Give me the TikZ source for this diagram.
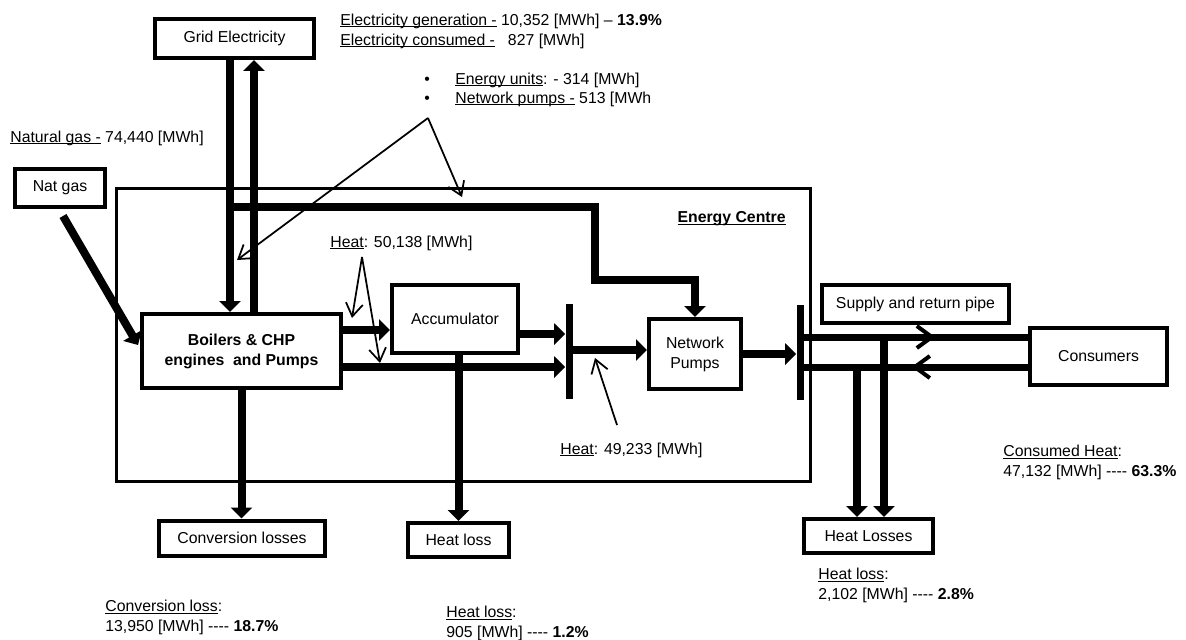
\documentclass[tikz,border=0pt]{standalone}
\usepackage{fontspec}
\setmainfont{Liberation Sans}
\usetikzlibrary{arrows.meta, decorations.markings, calc}

\newcommand{\dashrun}{-\kern0pt-\kern0pt-\kern0pt-}
\newcommand{\ulbox}[1]{\leavevmode\setbox0=\hbox{#1}\rlap{\rule[-1.3pt]{\wd0}{0.6pt}}\box0\relax}

\begin{document}
\begin{tikzpicture}[
    x=0.02cm, y=-0.02cm,
    every node/.style={font=\fontsize{9}{11.4}\selectfont},
    box/.style={rectangle, draw, line width=0.08cm, align=center, inner sep=2pt},
    bar/.style={rectangle, fill, inner sep=0pt, minimum width=0.14cm, minimum height=1.92cm},
    flow/.style={line width=0.16cm, -{Triangle[width=0.42cm, length=0.22cm]}},
    pipeflow/.style={line width=0.14cm, postaction={decorate, decoration={markings,
        mark=at position #1 with {\arrow{Straight Barb[width=0.44cm, length=0.3cm, line width=0.08cm]}}}}},
    pointer/.style={line width=0.035cm, -{Straight Barb[width=0.34cm, length=0.26cm]}},
    info/.style={anchor=west, inner sep=0pt, align=left}
]
\useasboundingbox (0,0) rectangle (1186,639);

% boxes
\node[box, line width=0.06cm, minimum width=13.88cm, minimum height=5.86cm] (centre) at (463.5,335) {};
\node[box, minimum width=3.18cm, minimum height=0.78cm] (grid) at (234.5,38.5) {Grid Electricity};
\node[box, minimum width=1.8cm, minimum height=0.76cm] (natgas) at (60,188) {Nat gas};
\node[box, minimum width=3.98cm, minimum height=1.48cm] (boilers) at (241.5,351) {\textbf{Boilers \& CHP}\\\textbf{engines\ \ and Pumps}};
\node[box, minimum width=2.52cm, minimum height=1.36cm] (accum) at (455,319) {Accumulator};
\node[box, minimum width=1.84cm, minimum height=1.4cm] (pumps) at (695,354) {Network\\Pumps};
\node[box, minimum width=3.74cm, minimum height=0.76cm] (pipe) at (915.5,304) {Supply and return pipe};
\node[box, minimum width=2.74cm, minimum height=1.14cm] (consumers) at (1098.5,356.5) {Consumers};
\node[box, minimum width=3.32cm, minimum height=0.7cm] (convloss) at (242,538) {Conversion losses};
\node[box, minimum width=2.02cm, minimum height=0.68cm] (heatloss) at (458.5,540) {Heat loss};
\node[box, minimum width=2.58cm, minimum height=0.68cm] (heatlosses) at (868.5,536) {Heat Losses};
\node[bar] (bar1) at (569,351.5) {};
\node[bar] (bar2) at (800,352.5) {};

% rows and columns of the flows
\coordinate (gdown) at (230,0);
\coordinate (gup) at (254,0);
\coordinate (elecrow) at (0,207);
\coordinate (bend) at (595,280);
\coordinate (rowin) at (0,330);
\coordinate (rowout) at (0,334);
\coordinate (rowbypass) at (0,367);
\coordinate (rowpump) at (0,350);
\coordinate (rowsupply) at (0,337);
\coordinate (rowreturn) at (0,367);
\coordinate (colsupply) at (884,0);
\coordinate (colreturn) at (857,0);

% electricity
\draw[flow] (grid.south -| gdown) -- (boilers.north -| gdown);
\draw[flow] (boilers.north -| gup) -- (grid.south -| gup);
\draw[flow] (gdown |- elecrow) -| (bend) -| (pumps.north);

% gas and heat
\draw[flow] ([shift={(3,7)}]natgas.south) -- ([shift={(-2,-6)}]boilers.west);
\draw[flow] (boilers.east |- rowin) -- (accum.west |- rowin);
\draw[flow] (accum.east |- rowout) -- (bar1.west |- rowout);
\draw[flow] (boilers.east |- rowbypass) -- (bar1.west |- rowbypass);
\draw[flow] (bar1.east |- rowpump) -- (pumps.west |- rowpump);
\draw[flow] (pumps.east) -- (bar2.west |- pumps.east);

% network
\draw[pipeflow=0.586] (bar2.east |- rowsupply) -- (consumers.west |- rowsupply);
\draw[pipeflow=0.52] (consumers.west |- rowreturn) -- (bar2.east |- rowreturn);

% losses
\draw[flow] (boilers.south) -- (boilers.south |- convloss.north);
\draw[flow] (heatloss.north |- accum.south) -- (heatloss.north);
\draw[flow] (colsupply |- rowsupply) -- (colsupply |- heatlosses.north);
\draw[flow] (colreturn |- rowreturn) -- (colreturn |- heatlosses.north);

% labels
\node[info] (elecgen) at (340,21) {\ulbox{Electricity generation -} 10,352 [MWh] – \textbf{13.9\%}};
\node[info] (eleccons) at (340,41) {\ulbox{Electricity consumed -}\hspace{0.26cm}827 [MWh]};
\node[info] (units) at (424,80) {\makebox[0.62cm][l]{\textbullet}\ulbox{Energy units}: - 314 [MWh]};
\node[info] (netpumps) at (424,99) {\makebox[0.62cm][l]{\textbullet}\ulbox{Network pumps -} 513 [MWh};
\node[info] (gaslbl) at (10,138) {\ulbox{Natural gas -} 74,440 [MWh]};
\node[anchor=east, inner sep=0pt] (centrelbl) at (786,219) {\textbf{\ulbox{Energy Centre}}};
\node[info] (heatin) at (330,243) {\ulbox{Heat}: 50,138 [MWh]};
\node[info] (heatout) at (560,450) {\ulbox{Heat}: 49,233 [MWh]};
\node[info, anchor=north west] (consumed) at (1003,445) {\ulbox{Consumed Heat}:\\47,132 [MWh] \dashrun\ \textbf{63.3\%}};
\node[info, anchor=north west] (netloss) at (818,568) {\ulbox{Heat loss}:\\2,102 [MWh] \dashrun\ \textbf{2.8\%}};
\node[info, anchor=north west] (convtxt) at (105,600) {\ulbox{Conversion loss}:\\13,950 [MWh] \dashrun\ \textbf{18.7\%}};
\node[info, anchor=north west] (centreloss) at (446,606) {\ulbox{Heat loss}:\\905 [MWh] \dashrun\ \textbf{1.2\%}};

% pointers
\coordinate (callelec) at (428,118);
\coordinate (callheat) at (362,257);
\coordinate (callnet) at (617,425);
\coordinate (tipgrid) at (237,260);
\coordinate (tipline) at (462,197);
\coordinate (tipaccum) at (352,318);
\coordinate (tipbypass) at (380,363);
\coordinate (tippump) at (595,358);
\draw[pointer] (callelec) -- (tipgrid);
\draw[pointer] (callelec) -- (tipline);
\draw[pointer] (callheat) -- (tipaccum);
\draw[pointer] (callheat) -- (tipbypass);
\draw[pointer] (callnet) -- (tippump);
\end{tikzpicture}
\end{document}
